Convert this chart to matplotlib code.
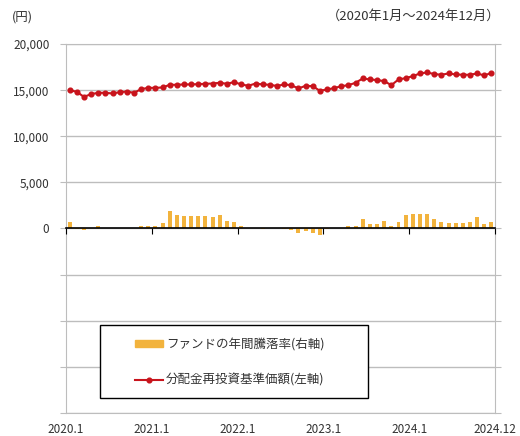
import numpy as np
import matplotlib.pyplot as plt

plt.rcParams['font.family'] = ['Noto Sans CJK JP', 'DejaVu Sans']

# 月次データ（2020年1月～2024年12月）
nav = [15000, 14820, 14270, 14570, 14710, 14710, 14640, 14780, 14850, 14710,
       15110, 15250, 15250, 15290, 15580, 15580, 15620, 15620, 15650, 15690,
       15720, 15800, 15690, 15870, 15620, 15470, 15720, 15620, 15580, 15450,
       15620, 15540, 15180, 15470, 15430, 14930, 15070, 15220, 15430, 15540,
       15800, 16270, 16160, 16090, 15980, 15540, 16160, 16300, 16520, 16810,
       16920, 16740, 16670, 16810, 16700, 16670, 16670, 16810, 16590, 16880]

ret = [3.3, -0.5, -1.1, 0.5, 1.1, 0.3, 0.3, 0.5, 0.5, 0.3,
       1.1, 1.6, 1.1, 2.7, 9.2, 7.1, 6.5, 6.5, 6.5, 6.5,
       6.0, 7.1, 3.8, 3.3, 1.6, 0.5, 0.3, -0.5, 0.1, 0.3,
       -0.5, -1.1, -2.2, -1.6, -2.2, -3.8, -0.5, 0.3, 0.5, 1.1,
       1.6, 4.9, 2.2, 2.2, 3.8, 1.1, 3.3, 7.1, 8.1, 8.1,
       7.6, 5.4, 3.3, 2.7, 2.7, 2.7, 3.3, 6.0, 2.2, 3.3]

tick_labels = ['2020.1', '2021.1', '2022.1', '2023.1', '2024.1', '2024.12']
tick_pos = [0, 12, 24, 36, 48, 60]

x = np.arange(len(nav)) + 0.5

fig = plt.figure(figsize=(5.2, 4.36), dpi=100)
ax = fig.add_axes([0.127, 0.053, 0.825, 0.846])
ax2 = ax.twinx()

grid_c = '#bdbdbd'
txt_c = '#333333'

# 左軸（基準価額）
ax.set_ylim(-20000, 20000)
ax.set_yticks(np.arange(-20000, 20001, 5000))
ax.set_yticklabels([f'{v:,}' if v >= 0 else '' for v in range(-20000, 20001, 5000)])
ax.yaxis.grid(True, color=grid_c, lw=1)
ax.set_axisbelow(True)
ax.tick_params(axis='y', length=4, color=grid_c, labelsize=8.5, pad=8, labelcolor=txt_c)
ax.set_xlim(0, 60)
ax.set_xticks(tick_pos)
ax.set_xticklabels(tick_labels)
ax.tick_params(axis='x', length=0, labelsize=8.5, pad=7, labelcolor=txt_c)
for s in ax.spines.values():
    s.set_color(grid_c)

# 右軸（年間騰落率）
ax2.bar(x, ret, width=0.55, color='#F2B33D', zorder=2)
ax2.set_ylim(-100, 100)
ax2.set_yticks(np.arange(-100, 101, 25))
ax2.tick_params(axis='y', length=4, color=grid_c, labelright=False)
ax2.xaxis.set_visible(True)
ax2.spines['bottom'].set_position(('data', 0))
ax2.spines['bottom'].set_color('black')
ax2.spines['bottom'].set_linewidth(1.2)
ax2.tick_params(axis='x', direction='out', length=4, color='black', labelbottom=False)
for k in ['top', 'left', 'right']:
    ax2.spines[k].set_visible(False)

# 線は最前面
ax3 = ax.twinx()
ax3.set_ylim(ax.get_ylim())
ax3.axis('off')
line, = ax3.plot(x, nav, color='#C8141C', lw=1.5, marker='o', markersize=3.4, zorder=3)

# 凡例の枠
frame = plt.Rectangle((0.079, 0.041), 0.625, 0.197, transform=ax3.transAxes,
                      facecolor='white', edgecolor='black', lw=1.0, zorder=4)
ax3.add_patch(frame)

bar_handle = plt.Rectangle((0, 0), 1, 1, color='#F2B33D')
leg = ax3.legend([bar_handle, line], ['ファンドの年間騰落率(右軸)', '分配金再投資基準価額(左軸)'],
                 loc='center left', bbox_to_anchor=(0.161, 0.137), fontsize=9,
                 frameon=False, borderpad=0, borderaxespad=0,
                 labelspacing=1.8, handlelength=2.2, handleheight=0.5,
                 handletextpad=0.25, labelcolor=txt_c)
leg.set_zorder(5)

fig.text(0.022, 0.96, '(円)', fontsize=9, va='center', color=txt_c)
fig.text(0.962, 0.962, '（2020年1月～2024年12月）', fontsize=9.5, va='center', ha='right', color=txt_c)
fig.text(0.986, 0.962, '（%）', fontsize=9, va='center', color=txt_c)

fig.savefig('out.png', dpi=100)
